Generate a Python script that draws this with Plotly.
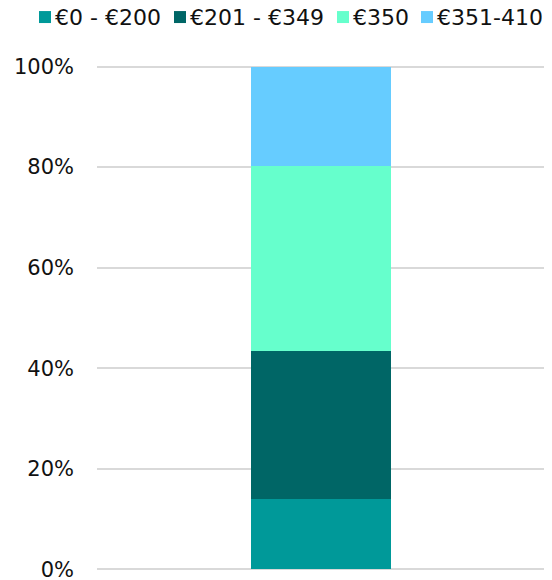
import plotly.graph_objects as go

categories = ["Total"]
series_names = ["€0 - €200", "€201 - €349", "€350", "€351-410"]
series_values = [[14.0], [29.5], [36.8], [19.7]]
colors = ["#009999", "#006666", "#66FFCC", "#66CCFF"]
tick_vals = [0, 20, 40, 60, 80, 100]
tick_text = ["0%", "20%", "40%", "60%", "80%", "100%"]

# layout constants (pixels); the page body adds an 8px offset, so the figure is 8px smaller
OFF = 8
W, H = 552 - OFF, 580 - OFF
ML, MR, MT, MB = 97 - OFF, 2, 64.5 - OFF, 9
PW = W - ML - MR
PH = H - MT - MB
legend_swatch_x = [39 - OFF, 174 - OFF, 337 - OFF, 421 - OFF]
legend_y = 16.5 - OFF
swatch = 12


def px_to_paper_x(px):
    return (px - ML) / PW


def px_to_paper_y(py):
    return (H - MB - py) / PH


fig = go.Figure()
for name, vals, col in zip(series_names, series_values, colors):
    fig.add_trace(go.Bar(x=categories, y=vals, name=name,
                         marker=dict(color=col, line=dict(width=0)), width=0.309))

shapes = []
annotations = []
for name, col, sx in zip(series_names, colors, legend_swatch_x):
    shapes.append(dict(type="rect", xref="paper", yref="paper",
                       x0=px_to_paper_x(sx), x1=px_to_paper_x(sx + swatch),
                       y0=px_to_paper_y(legend_y + swatch / 2), y1=px_to_paper_y(legend_y - swatch / 2),
                       fillcolor=col, line=dict(width=0)))
    annotations.append(dict(text=name, xref="paper", yref="paper",
                            x=px_to_paper_x(sx + swatch + 2), y=px_to_paper_y(legend_y + 0.5),
                            xanchor="left", yanchor="middle", showarrow=False,
                            font=dict(size=22, color="#111111")))

fig.update_layout(
    barmode="stack",
    width=W, height=H,
    margin=dict(l=ML, r=MR, t=MT, b=MB, autoexpand=False),
    plot_bgcolor="white", paper_bgcolor="white",
    font=dict(family="DejaVu Sans, Verdana, sans-serif", size=21, color="#111111"),
    showlegend=False,
    shapes=shapes,
    annotations=annotations,
)
fig.update_xaxes(showticklabels=False, showgrid=False, zeroline=False, showline=False,
                 range=[-0.4945, 0.5055], automargin=False)
fig.update_yaxes(range=[-0.3, 100.3], tickvals=tick_vals, ticktext=tick_text, showgrid=True,
                 gridcolor="#d9d9d9", gridwidth=2, zeroline=False, showline=False, ticks="",
                 ticklabelstandoff=22, ticklabeloverflow="allow", automargin=False)
fig.write_html("out.html")
